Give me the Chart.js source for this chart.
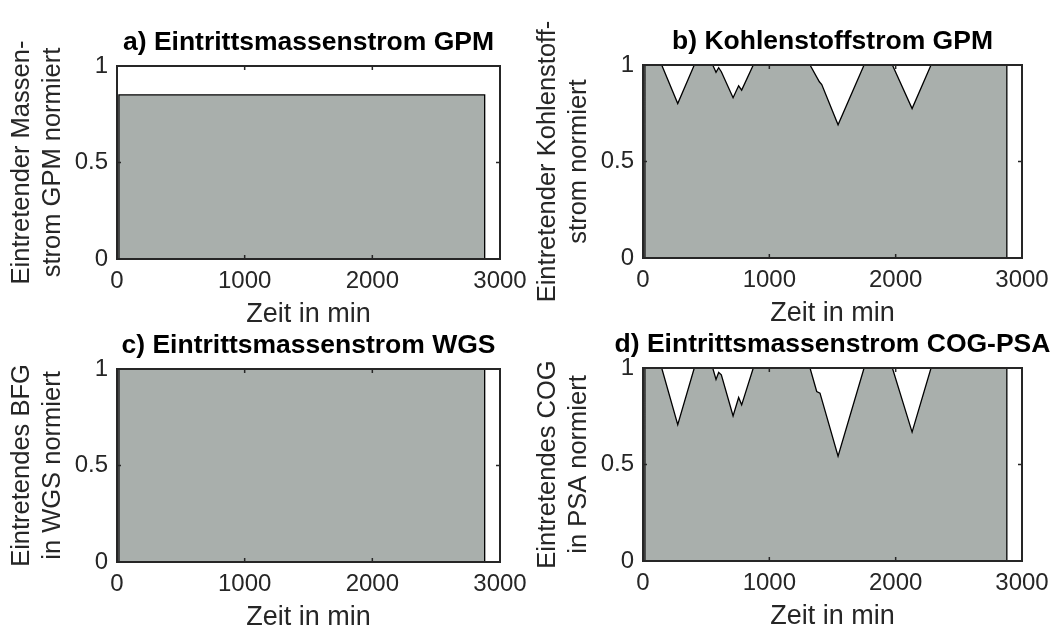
<!DOCTYPE html>
<html>
<head>
<meta charset="utf-8">
<script src="https://cdn.jsdelivr.net/npm/chart.js@4.4.1/dist/chart.umd.min.js"></script>
<style>
  body { margin: 0; background: #fff; }
  #wrap { position: relative; width: 1064px; height: 630px; }
  #wrap canvas { position: absolute; left: 0; top: 0; }
</style>
</head>
<body>
<div id="wrap">
  <canvas id="chartA" width="1064" height="630"></canvas>
  <canvas id="chartB" width="1064" height="630"></canvas>
  <canvas id="chartC" width="1064" height="630"></canvas>
  <canvas id="chartD" width="1064" height="630"></canvas>
</div>
<script>
// Zeit in min, Werte normiert
const timeA = [15, 15, 2880, 2880];
const flowA = [0, 0.85, 0.85, 0];

const timeB = [15, 15, 148, 275, 406, 552, 578, 599, 620, 713, 757, 781, 873,
               1322, 1396, 1415, 1544, 1750, 1974, 2130, 2280, 2880, 2880];
const carbonB = [0, 1, 1, 0.80, 1, 1, 0.962, 0.986, 0.965, 0.83, 0.892, 0.87, 1,
                 1, 0.913, 0.899, 0.69, 1, 1, 0.774, 1, 1, 0];

const timeC = [15, 15, 2880, 2880];
const flowC = [0, 1, 1, 0];

const timeD = [15, 15, 148, 275, 406, 552, 578, 599, 620, 713, 757, 781, 873,
               1322, 1375, 1401, 1544, 1750, 1974, 2130, 2280, 2880, 2880];
const cogD = [0, 1, 1, 0.706, 1, 1, 0.941, 0.977, 0.965, 0.752, 0.847, 0.809, 1,
              1, 0.878, 0.87, 0.543, 1, 1, 0.668, 1, 1, 0];

const xTicks = [0, 1000, 2000, 3000];
const yTicks = [0, 0.5, 1];

const titles = ['a) Eintrittsmassenstrom GPM', 'b) Kohlenstoffstrom GPM',
                'c) Eintrittsmassenstrom WGS', 'd) Eintrittsmassenstrom COG-PSA'];
const yLabels = [['Eintretender Massen-', 'strom GPM normiert'],
                 ['Eintretender Kohlenstoff-', 'strom normiert'],
                 ['Eintretendes BFG', 'in WGS normiert'],
                 ['Eintretendes COG', 'in PSA normiert']];
const xLabel = 'Zeit in min';

const family = '"Liberation Sans", Arial, sans-serif';
const Y_W = 117;   // breite der y-achse
const X_H = 72;    // hoehe der x-achse

// achsenbox wie in matlab, ticks nach innen + titel
const boxPlugin = {
  id: 'matlabBox',
  afterDatasetsDraw(chart, args, opts) {
    const {ctx, chartArea: a, scales: {x, y}} = chart;
    ctx.save();
    ctx.strokeStyle = '#262626';
    ctx.lineWidth = 1.5;
    ctx.beginPath();
    x.ticks.forEach(t => {
      const px = x.getPixelForValue(t.value);
      ctx.moveTo(px, a.bottom); ctx.lineTo(px, a.bottom - 4);
      ctx.moveTo(px, a.top); ctx.lineTo(px, a.top + 4);
    });
    y.ticks.forEach(t => {
      const py = y.getPixelForValue(t.value);
      ctx.moveTo(a.left, py); ctx.lineTo(a.left + 4, py);
      ctx.moveTo(a.right, py); ctx.lineTo(a.right - 4, py);
    });
    ctx.stroke();
    ctx.lineWidth = 2;
    ctx.strokeRect(a.left, a.top, a.right - a.left, a.bottom - a.top);

    ctx.fillStyle = '#000';
    ctx.font = 'bold 26.5px ' + family;
    ctx.textAlign = 'center';
    ctx.textBaseline = 'middle';
    ctx.fillText(opts.title, (a.left + a.right) / 2, a.top - 23);
    ctx.restore();
  }
};

const panels = [
  {id: 'chartA', time: timeA, vals: flowA, n: 0, box: [117, 66, 500, 259]},
  {id: 'chartB', time: timeB, vals: carbonB, n: 1, box: [643, 65, 1022, 258]},
  {id: 'chartC', time: timeC, vals: flowC, n: 2, box: [117, 369, 500, 562]},
  {id: 'chartD', time: timeD, vals: cogD, n: 3, box: [643, 368, 1022, 561]}
];

panels.forEach(p => {
  const [l, t, r, b] = p.box;
  new Chart(document.getElementById(p.id), {
    type: 'line',
    data: {
      datasets: [{
        data: p.time.map((tm, i) => ({x: tm, y: p.vals[i]})),
        borderColor: '#000',
        borderWidth: 1.3,
        backgroundColor: '#a9afac',
        fill: 'origin',
        pointRadius: 0,
        tension: 0
      }]
    },
    options: {
      responsive: false,
      animation: false,
      events: [],
      layout: {padding: {left: l - Y_W, right: 1064 - r, top: t, bottom: 630 - b - X_H}},
      plugins: {
        legend: {display: false},
        tooltip: {enabled: false},
        matlabBox: {title: titles[p.n]}
      },
      scales: {
        x: {
          type: 'linear', min: 0, max: 3000,
          afterBuildTicks: s => { s.ticks = xTicks.map(v => ({value: v})); },
          afterFit: s => { s.height = X_H; },
          grid: {display: false, drawTicks: false},
          border: {display: false},
          ticks: {padding: 8, color: '#262626', font: {size: 24, family}, maxRotation: 0, autoSkip: false,
                  callback: v => String(v)},
          title: {display: true, text: xLabel, color: '#262626', font: {size: 27, family}, padding: 0}
        },
        y: {
          type: 'linear', min: 0, max: 1,
          afterBuildTicks: s => { s.ticks = yTicks.map(v => ({value: v})); },
          afterFit: s => { s.width = Y_W; },
          grid: {display: false, drawTicks: false},
          border: {display: false},
          ticks: {padding: 9, color: '#262626', font: {size: 24, family}, callback: v => String(v)},
          title: {display: true, text: yLabels[p.n], color: '#262626',
                  font: {size: 25.5, family, lineHeight: 1.2}, padding: {top: 7, bottom: 0}}
        }
      }
    },
    plugins: [boxPlugin]
  });
});
</script>
</body>
</html>
